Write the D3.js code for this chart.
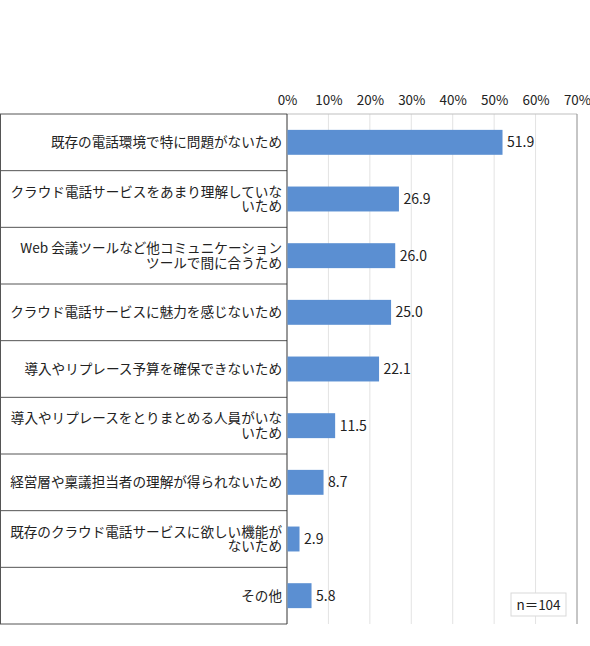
<!DOCTYPE html>
<html lang="ja">
<head>
<meta charset="UTF-8">
<title>クラウド電話を導入しない理由</title>
<script src="https://cdn.jsdelivr.net/npm/d3@7"></script>
<style>
  body { margin: 0; background: #fff; }
  text { font-family: "Noto Sans CJK JP", "Noto Sans", sans-serif; fill: #222; }
</style>
</head>
<body>
<div id="chart"></div>
<script>
// reasons, each split into the lines shown in the table
const labels = [
    ["既存の電話環境で特に問題がないため"],
    ["クラウド電話サービスをあまり理解していな", "いため"],
    ["Web 会議ツールなど他コミュニケーション", "ツールで間に合うため"],
    ["クラウド電話サービスに魅力を感じないため"],
    ["導入やリプレース予算を確保できないため"],
    ["導入やリプレースをとりまとめる人員がいな", "いため"],
    ["経営層や稟議担当者の理解が得られないため"],
    ["既存のクラウド電話サービスに欲しい機能が", "ないため"],
    ["その他"]
];
const values = [51.9, 26.9, 26.0, 25.0, 22.1, 11.5, 8.7, 2.9, 5.8];
const ticks = [0, 10, 20, 30, 40, 50, 60, 70];
const sampleNote = "n＝104";

const width = 590, height = 646;
const plotTop = 114, plotBottom = 624, axisX = 287, plotRight = 577;

const svg = d3.select("#chart").append("svg")
    .attr("width", width)
    .attr("height", height);

const x = d3.scaleLinear().domain([0, 70]).range([axisX, plotRight]);
const y = d3.scaleBand().domain(d3.range(values.length)).range([plotTop, plotBottom]);
const barH = y.bandwidth() * 0.44;

// gridlines
svg.append("g").selectAll("line")
    .data(ticks.slice(1, -1))
    .join("line")
    .attr("x1", d => x(d)).attr("x2", d => x(d))
    .attr("y1", plotTop).attr("y2", plotBottom)
    .attr("stroke", "#e3e3e3");

// top tick labels
const xAxis = d3.axisTop(x).tickValues(ticks).tickFormat(d => d + "%").tickSize(0).tickPadding(9);
const ax = svg.append("g").attr("transform", `translate(0,${plotTop})`).call(xAxis);
ax.select(".domain").remove();
ax.selectAll("text").style("font-size", "13.4px").attr("fill", "#222");

// plot frame (top + right)
svg.append("line").attr("x1", axisX).attr("x2", plotRight).attr("y1", plotTop).attr("y2", plotTop)
    .attr("stroke", "#bfbfbf");
svg.append("line").attr("x1", plotRight).attr("x2", plotRight).attr("y1", plotTop).attr("y2", plotBottom)
    .attr("stroke", "#8c8c8c");

// label table rows
svg.append("g").selectAll("line")
    .data(d3.range(values.length + 1))
    .join("line")
    .attr("x1", 0).attr("x2", axisX)
    .attr("y1", d => d < values.length ? y(d) : plotBottom)
    .attr("y2", d => d < values.length ? y(d) : plotBottom)
    .attr("stroke", "#555");
svg.append("line").attr("x1", 0.5).attr("x2", 0.5).attr("y1", plotTop).attr("y2", plotBottom)
    .attr("stroke", "#555");
svg.append("line").attr("x1", axisX).attr("x2", axisX).attr("y1", plotTop).attr("y2", plotBottom)
    .attr("stroke", "#333");

// label text
const lab = svg.append("g").selectAll("text")
    .data(labels)
    .join("text")
    .attr("text-anchor", "end")
    .style("font-size", "13.6px");
lab.each(function(lines, i) {
    const cy = y(i) + y.bandwidth() / 2;
    const lh = 14.5;
    const y0 = cy - (lines.length - 1) * lh / 2 + 5;
    d3.select(this).selectAll("tspan")
        .data(lines)
        .join("tspan")
        .attr("x", axisX - 5)
        .attr("y", (d, j) => y0 + j * lh)
        .text(d => d);
});

// bars
svg.append("g").selectAll("rect")
    .data(values)
    .join("rect")
    .attr("x", x(0) + 0.5)
    .attr("y", (d, i) => y(i) + (y.bandwidth() - barH) / 2)
    .attr("width", d => x(d) - x(0))
    .attr("height", barH)
    .attr("fill", "#5b8fd2");

// value labels
svg.append("g").selectAll("text")
    .data(values)
    .join("text")
    .attr("x", d => x(d) + 5)
    .attr("y", (d, i) => y(i) + y.bandwidth() / 2 + 5)
    .style("font-size", "14px")
    .text(d => d.toFixed(1));

// sample size box
svg.append("rect")
    .attr("x", 511).attr("y", 593).attr("width", 55).attr("height", 23)
    .attr("fill", "#fff").attr("stroke", "#d9d9d9");
svg.append("text")
    .attr("x", 538.5).attr("y", 609.5)
    .attr("text-anchor", "middle")
    .style("font-size", "13.5px")
    .text(sampleNote);
</script>
</body>
</html>
